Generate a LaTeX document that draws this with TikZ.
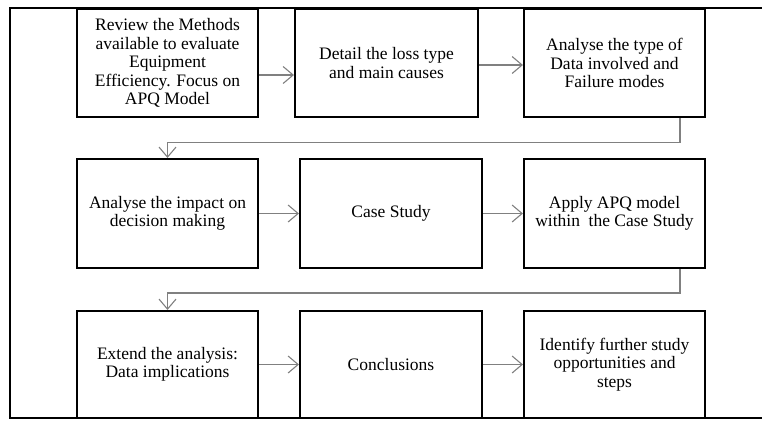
\documentclass[tikz,border=0pt]{standalone}
\usepackage{fontspec}
\setmainfont{Liberation Serif}
\usetikzlibrary{arrows.meta}
\begin{document}
\begin{tikzpicture}[x=1pt,y=-1pt,
  stepbox/.style={draw=black,line width=2.1pt,align=center,inner sep=0pt,
    font=\fontsize{17.5}{18.4}\selectfont},
  arr/.style={draw=gray,line width=1.3pt,-{Straight Barb[length=10pt,width=17pt,line width=1.1pt]}},
  frame/.style={draw=black,line width=2pt}]
\useasboundingbox (0,0) rectangle (762,420);
\draw[frame] (762,8.5) -- (9.5,8.5) -- (9.5,418) -- (762,418);
% row 1
\node[stepbox,minimum width=181pt,minimum height=108pt] (b1) at (167.5,63) {Review the Methods\\available to evaluate\\Equipment\\Efficiency. Focus on\\APQ Model};
\node[stepbox,minimum width=183pt,minimum height=108pt] (b2) at (386.5,63) {Detail the loss type\\and main causes};
\node[stepbox,minimum width=181pt,minimum height=108pt] (b3) at (614.5,63) {Analyse the type of\\Data involved and\\Failure modes};
% row 2
\node[stepbox,minimum width=181pt,minimum height=109pt] (b4) at (167.5,213.5) {Analyse the impact on\\decision making};
\node[stepbox,minimum width=182pt,minimum height=109pt] (b5) at (391,213.5) {Case Study};
\node[stepbox,minimum width=181pt,minimum height=109pt] (b6) at (614.5,213.5) {Apply APQ model\\within\ \ the Case Study};
% row 3
\node[stepbox,minimum width=181pt,minimum height=107pt] (b7) at (167.5,364.5) {Extend the analysis:\\Data implications};
\node[stepbox,minimum width=182pt,minimum height=107pt] (b8) at (391,364.5) {Conclusions};
\node[stepbox,minimum width=181pt,minimum height=107pt] (b9) at (614.5,364.5) {Identify further study\\opportunities and\\steps};
% connectors
\coordinate (y1) at (0,75);
\coordinate (y2) at (0,65);
\draw[arr] (b1.east |- y1) -- (b2.west |- y1);
\draw[arr] (b2.east |- y2) -- (b3.west |- y2);
\draw[arr] (b4.east) -- (b5.west);
\draw[arr] (b5.east) -- (b6.west);
\draw[arr] (b7.east) -- (b8.west);
\draw[arr] (b8.east) -- (b9.west);
\coordinate (xa) at (680,0);
\coordinate (xb) at (167.5,0);
\coordinate (h1) at (0,142.5);
\coordinate (h2) at (0,293);
\draw[arr] (b3.south -| xa) -- (xa |- h1) -- (xb |- h1) -- (b4.north);
\draw[arr] (b6.south -| xa) -- (xa |- h2) -- (xb |- h2) -- (b7.north);
\end{tikzpicture}
\end{document}
